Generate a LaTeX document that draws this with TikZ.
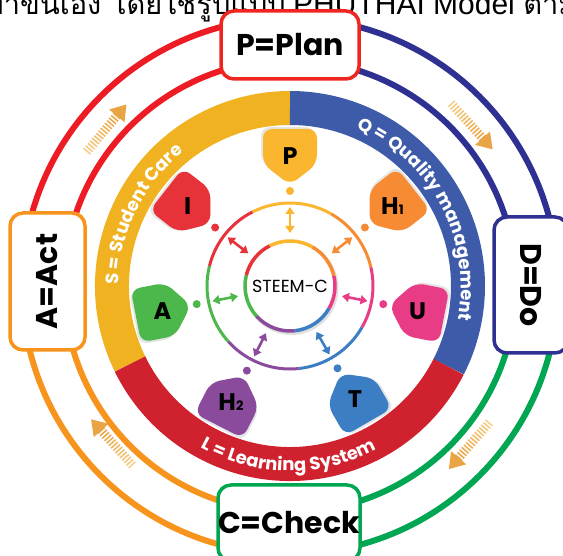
\documentclass[tikz,border=0pt]{standalone}
\usepackage{fontspec}
\setmainfont{Poppins}
\newfontfamily\thaifont[Script=Thai]{Loma}
\newfontfamily\latfont{Liberation Sans}
\usetikzlibrary{arrows.meta,decorations.text,calc}
\definecolor{rRed}{HTML}{ED1C24}
\definecolor{rNavy}{HTML}{2E3192}
\definecolor{rGreen}{HTML}{00A651}
\definecolor{rOrange}{HTML}{F7941D}
\definecolor{bYel}{HTML}{F0B220}
\definecolor{bBlue}{HTML}{3D5BA9}
\definecolor{bRed}{HTML}{D0222E}
\definecolor{cP}{HTML}{FBB62F}
\definecolor{cI}{HTML}{E8323A}
\definecolor{cH}{HTML}{F68B33}
\definecolor{cU}{HTML}{E83D86}
\definecolor{cT}{HTML}{3B7EC3}
\definecolor{cHH}{HTML}{8A4B9D}
\definecolor{cA}{HTML}{4CB74A}
\definecolor{goldA}{HTML}{E9A445}
\definecolor{goldB}{HTML}{F6D491}
\newcommand\bandfont{\bfseries\fontsize{18}{18}\selectfont}
\newcommand\lowdig[1]{{\fontsize{13}{13}\selectfont #1}}
\begin{document}
\begin{tikzpicture}[x=1pt,y=1pt,
  ring/.style={line width=6pt},
  box/.style={fill=white, line width=3.5pt, rounded corners=13pt, inner sep=0pt,
    font=\bfseries\fontsize{30}{30}\selectfont},
  seg/.style={line width=3pt},
  dbl/.style={line width=2.6pt, {Triangle[length=7pt,width=9pt]}-{Triangle[length=7pt,width=9pt]}},
  blobtxt/.style={font=\bfseries\fontsize{24}{24}\selectfont, inner sep=0pt},
  bandtxt/.style={decorate, decoration={text along path, text align=center,
    text={|\bandfont\color{white}|#1}}}
]
\clip (0,0) rectangle (563,555);
\coordinate (O) at (290,269);

% clipped Thai heading (only its lower half shows)
\node[anchor=base east, inner sep=0pt, font=\thaifont\fontsize{29}{29}\selectfont] (thA) at (286,540) {ว จัดทำขึ้นเอง โดยใช้รูปแบบ};
\node[anchor=base west, inner sep=0pt, font=\latfont\fontsize{30}{30}\selectfont] (thB) at (293,540) {PHUTHAI Model};
\node[anchor=base west, inner sep=0pt, font=\thaifont\fontsize{29}{29}\selectfont] (thC) at ([xshift=8pt]thB.base east) {ตาม};

% outer double rings
\foreach \r in {268,226}{
  \draw[ring, rRed]    ([shift={(90:\r)}]O)  arc[start angle=90, end angle=180, radius=\r];
  \draw[ring, rNavy]   ([shift={(0:\r)}]O)   arc[start angle=0, end angle=90, radius=\r];
  \draw[ring, rGreen]  ([shift={(-90:\r)}]O) arc[start angle=-90, end angle=0, radius=\r];
  \draw[ring, rOrange] ([shift={(180:\r)}]O) arc[start angle=180, end angle=270, radius=\r];
}

% golden cycle arrows
\foreach \ang/\rr in {140/242, 42/242, -41/240, 222/237}{
  \begin{scope}[shift={($(O)+(\ang:\rr)$)}, rotate=\ang-90]
    \fill[goldA] (34,0) -- (19,10) -- (19,-10) -- cycle;
    \foreach \i [evaluate=\i as \xx using 19-\i*3.3, evaluate=\i as \pc using 100-\i*6.5] in {0,...,14}{
      \draw[goldA!\pc!goldB, line width=1.6pt] (\xx,-4.5) -- ++(0,9);
    }
  \end{scope}
}

% PDCA boxes
\node[box, draw=rRed!90!orange, minimum width=138pt, minimum height=68pt] (plan) at (290,510) {P=Plan};
\node[box, draw=rOrange, minimum width=137pt, minimum height=75pt, rotate=90] (act) at (47.5,273.5) {A=Act};
\node[box, draw=rNavy, minimum width=136pt, minimum height=74pt, rotate=-90] (do) at (531,270) {D=Do};
\node[box, draw=rGreen, minimum width=142pt, minimum height=76pt] (check) at (289,32) {C=Check};

% thick coloured band
\draw[line width=34pt, bYel]  ([shift={(206:178)}]O) arc[start angle=206, end angle=90, radius=178];
\draw[line width=34pt, bBlue] ([shift={(90:178)}]O)  arc[start angle=90, end angle=-27, radius=178];
\draw[line width=34pt, bRed]  ([shift={(-27:178)}]O) arc[start angle=-27, end angle=-154, radius=178];

\path[bandtxt={S = Student Care}] ([shift={(214:171)}]O) arc[start angle=214, end angle=94, radius=171];
\path[bandtxt={Q = Quality management}] ([shift={(92:171)}]O) arc[start angle=92, end angle=-36, radius=171];
\path[bandtxt={L = Learning System}] ([shift={(205:185)}]O) arc[start angle=205, end angle=334, radius=185];

% middle thin ring and inner circle segments
\fill[black!12] ([shift={(1.5,-2)}]O) circle (47);
\fill[white] (O) circle (45);
\foreach \a/\b/\c in {60/117/cP, 13/60/cH, -30/13/cU, -84/-30/cT, -138/-84/cHH, 166/222/cA, 117/166/cI}{
  \draw[seg, \c] ([shift={(\a:83)}]O) arc[start angle=\a, end angle=\b, radius=83];
  \draw[line width=3.5pt, \c] ([shift={(\a:45)}]O) arc[start angle=\a, end angle=\b, radius=45];
}
\node[font=\fontsize{17.5}{17.5}\selectfont, inner sep=0pt] (core) at (O) {STEEM-C};

% seven element blobs
\foreach \ang/\col/\lab/\nm in {90/cP/P/nP, 38/cH/{H\lowdig{1}}/nHa, -11/cU/U/nU, -60/cT/T/nT, 243/cHH/{H\lowdig{2}}/nHb, 191/cA/A/nA, 142/cI/I/nI}{
  \begin{scope}[shift={($(O)+(\ang:131)$)}, rotate=\ang+180]
    \fill[black!10, rounded corners=9pt, shift={(-2,0)}] (30,-2) -- (9,25) -- (-26,25) -- (-26,-29) -- (9,-29) -- cycle;
    \fill[\col, rounded corners=9pt] (30,0) -- (9,27) -- (-26,27) -- (-26,-27) -- (9,-27) -- cycle;
  \end{scope}
  \fill[\col] ($(O)+(\ang:95)$) circle (4);
  \node[blobtxt] (\nm) at ($(O)+(\ang:130)$) {\lab};
  \draw[dbl, \col] ($(O)+(\ang:53)$) -- ($(O)+(\ang:79)$);
}
\end{tikzpicture}
\end{document}
